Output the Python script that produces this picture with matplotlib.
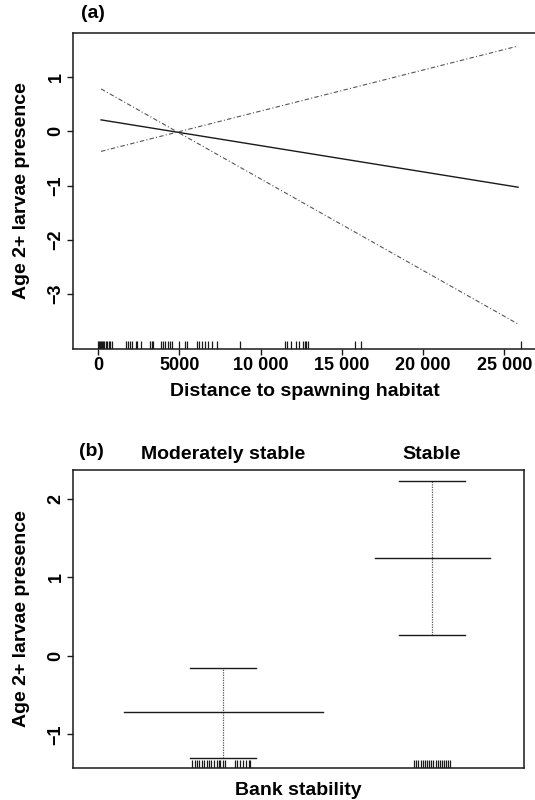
import matplotlib
matplotlib.use("Agg")
import matplotlib.pyplot as plt
import matplotlib.transforms as mtransforms

plt.rcParams["font.family"] = ["Liberation Sans", "DejaVu Sans"]
plt.rcParams["font.weight"] = "bold"
plt.rcParams["axes.labelweight"] = "bold"

# ---- panel (a): linear term for distance to spawning habitat ----
dist_x = [170, 25850]
dist_fit = [0.21, -1.03]
dist_band_a = [0.78, -3.55]   # fit +/- 2se (crossing bands)
dist_band_b = [-0.37, 1.57]
dist_rug = [0, 60, 120, 180, 240, 310, 380, 460, 540, 640, 750, 850,
            1725, 1827, 1950, 2094, 2299, 2402, 2648,
            3162, 3285, 3387,
            3839, 3983, 4106, 4270, 4414, 4558, 4968, 5338, 5481,
            6056, 6200, 6364, 6570, 6775, 7021, 7329,
            8705,
            11497, 11641, 11846, 12154, 12360, 12626, 12729, 12811, 12934,
            15808, 16157,
            26011]
dist_ticks = [0, 5000, 10000, 15000, 20000, 25000]
dist_ticklabels = ["0", "5000", "10 000", "15 000", "20 000", "25 000"]
a_yticks = [-3, -2, -1, 0, 1]

# ---- panel (b): factor term for bank stability ----
bank_levels = ["Moderately stable", "Stable"]
bank_pos = [1, 2]
bank_fit = [-0.72, 1.25]
bank_upper = [-0.15, 2.23]
bank_lower = [-1.30, 0.26]
bank_halfwidth = [0.476, 0.275]   # segment half-width ~ group size
cap_halfwidth = 0.16
bank_rug_mod = [0.853, 0.864, 0.875, 0.887, 0.897, 0.910, 0.921, 0.933, 0.942,
                0.957, 0.970, 0.981, 0.986, 0.998, 1.011, 1.056, 1.068, 1.081,
                1.096, 1.109, 1.122, 1.130]
bank_rug_stable = [1.914, 1.923, 1.933, 1.947, 1.956, 1.966, 1.976, 1.986, 1.995,
                   2.005, 2.017, 2.028, 2.038, 2.049, 2.057, 2.069, 2.077, 2.087]
b_yticks = [-1, 0, 1, 2]

INK = "#1a1a1a"
BAND = "#555555"
FS_LAB = 14
FS_TICK = 13


def style_axes(ax):
    for s in ax.spines.values():
        s.set_linewidth(1.1)
        s.set_color(INK)
    ax.tick_params(direction="out", length=4.5, width=1.0, color=INK,
                   labelsize=FS_TICK, pad=1.5)
    for lab in ax.get_xticklabels() + ax.get_yticklabels():
        lab.set_fontweight("bold")


def rug(ax, xs, height):
    trans = mtransforms.blended_transform_factory(ax.transData, ax.transAxes)
    for x in xs:
        ax.plot([x, x], [0, height], color=INK, lw=0.9, transform=trans,
                solid_capstyle="butt")


fig = plt.figure(figsize=(5.35, 8.0), dpi=100)

# panel (a)
ax1 = fig.add_axes([73 / 535, 1 - 349 / 800, 463 / 535, 316 / 800])
ax1.plot(dist_x, dist_fit, color=INK, lw=1.0)
ax1.plot(dist_x, dist_band_a, color=BAND, lw=0.8, linestyle=(0, (4, 2, 1, 2)))
ax1.plot(dist_x, dist_band_b, color=BAND, lw=0.8, linestyle=(0, (4, 2, 1, 2)))
rug(ax1, dist_rug, 0.026)
ax1.set_xlim(-1558, 26954)
ax1.set_ylim(-4.01, 1.81)
ax1.set_xticks(dist_ticks)
ax1.set_xticklabels(dist_ticklabels)
ax1.set_yticks(a_yticks)
style_axes(ax1)
for lab in ax1.get_yticklabels():
    lab.set_rotation(90)
    lab.set_va("center")
ax1.set_xlabel("Distance to spawning habitat", fontsize=FS_LAB, fontweight="bold", labelpad=6)
ax1.set_ylabel("Age 2+ larvae presence", fontsize=FS_LAB, fontweight="bold")
ax1.yaxis.set_label_coords(-0.093, 0.5)
fig.text(81 / 535, 1 - 14 / 800, "(a)", fontsize=FS_LAB, fontweight="bold",
         ha="left", va="center")

# panel (b)
ax2 = fig.add_axes([73 / 535, 1 - 768 / 800, 451 / 535, 298 / 800])
for p, f, lo, hi, hw in zip(bank_pos, bank_fit, bank_lower, bank_upper, bank_halfwidth):
    ax2.plot([p, p], [lo, hi], color=BAND, lw=0.9, linestyle=(0, (1, 1)))
    ax2.plot([p - hw, p + hw], [f, f], color=INK, lw=1.0)
    ax2.plot([p - cap_halfwidth, p + cap_halfwidth], [hi, hi], color=INK, lw=1.0)
    ax2.plot([p - cap_halfwidth, p + cap_halfwidth], [lo, lo], color=INK, lw=1.0)
rug(ax2, bank_rug_mod + bank_rug_stable, 0.027)
ax2.set_xlim(0.282, 2.44)
ax2.set_ylim(-1.43, 2.37)
ax2.set_yticks(b_yticks)
ax2.set_xticks([])
style_axes(ax2)
for lab in ax2.get_yticklabels():
    lab.set_rotation(90)
    lab.set_va("center")
# level names above the panel
top = mtransforms.blended_transform_factory(ax2.transData, ax2.transAxes)
for p, name in zip(bank_pos, bank_levels):
    ax2.text(p, 1.025, name, transform=top, ha="center", va="bottom",
             fontsize=FS_LAB, fontweight="bold")
ax2.set_xlabel("Bank stability", fontsize=FS_LAB, fontweight="bold", labelpad=10)
ax2.set_ylabel("Age 2+ larvae presence", fontsize=FS_LAB, fontweight="bold")
ax2.yaxis.set_label_coords(-0.095, 0.5)
fig.text(79 / 535, 1 - 451 / 800, "(b)", fontsize=FS_LAB, fontweight="bold",
         ha="left", va="center")

fig.savefig("out.png", dpi=100)
